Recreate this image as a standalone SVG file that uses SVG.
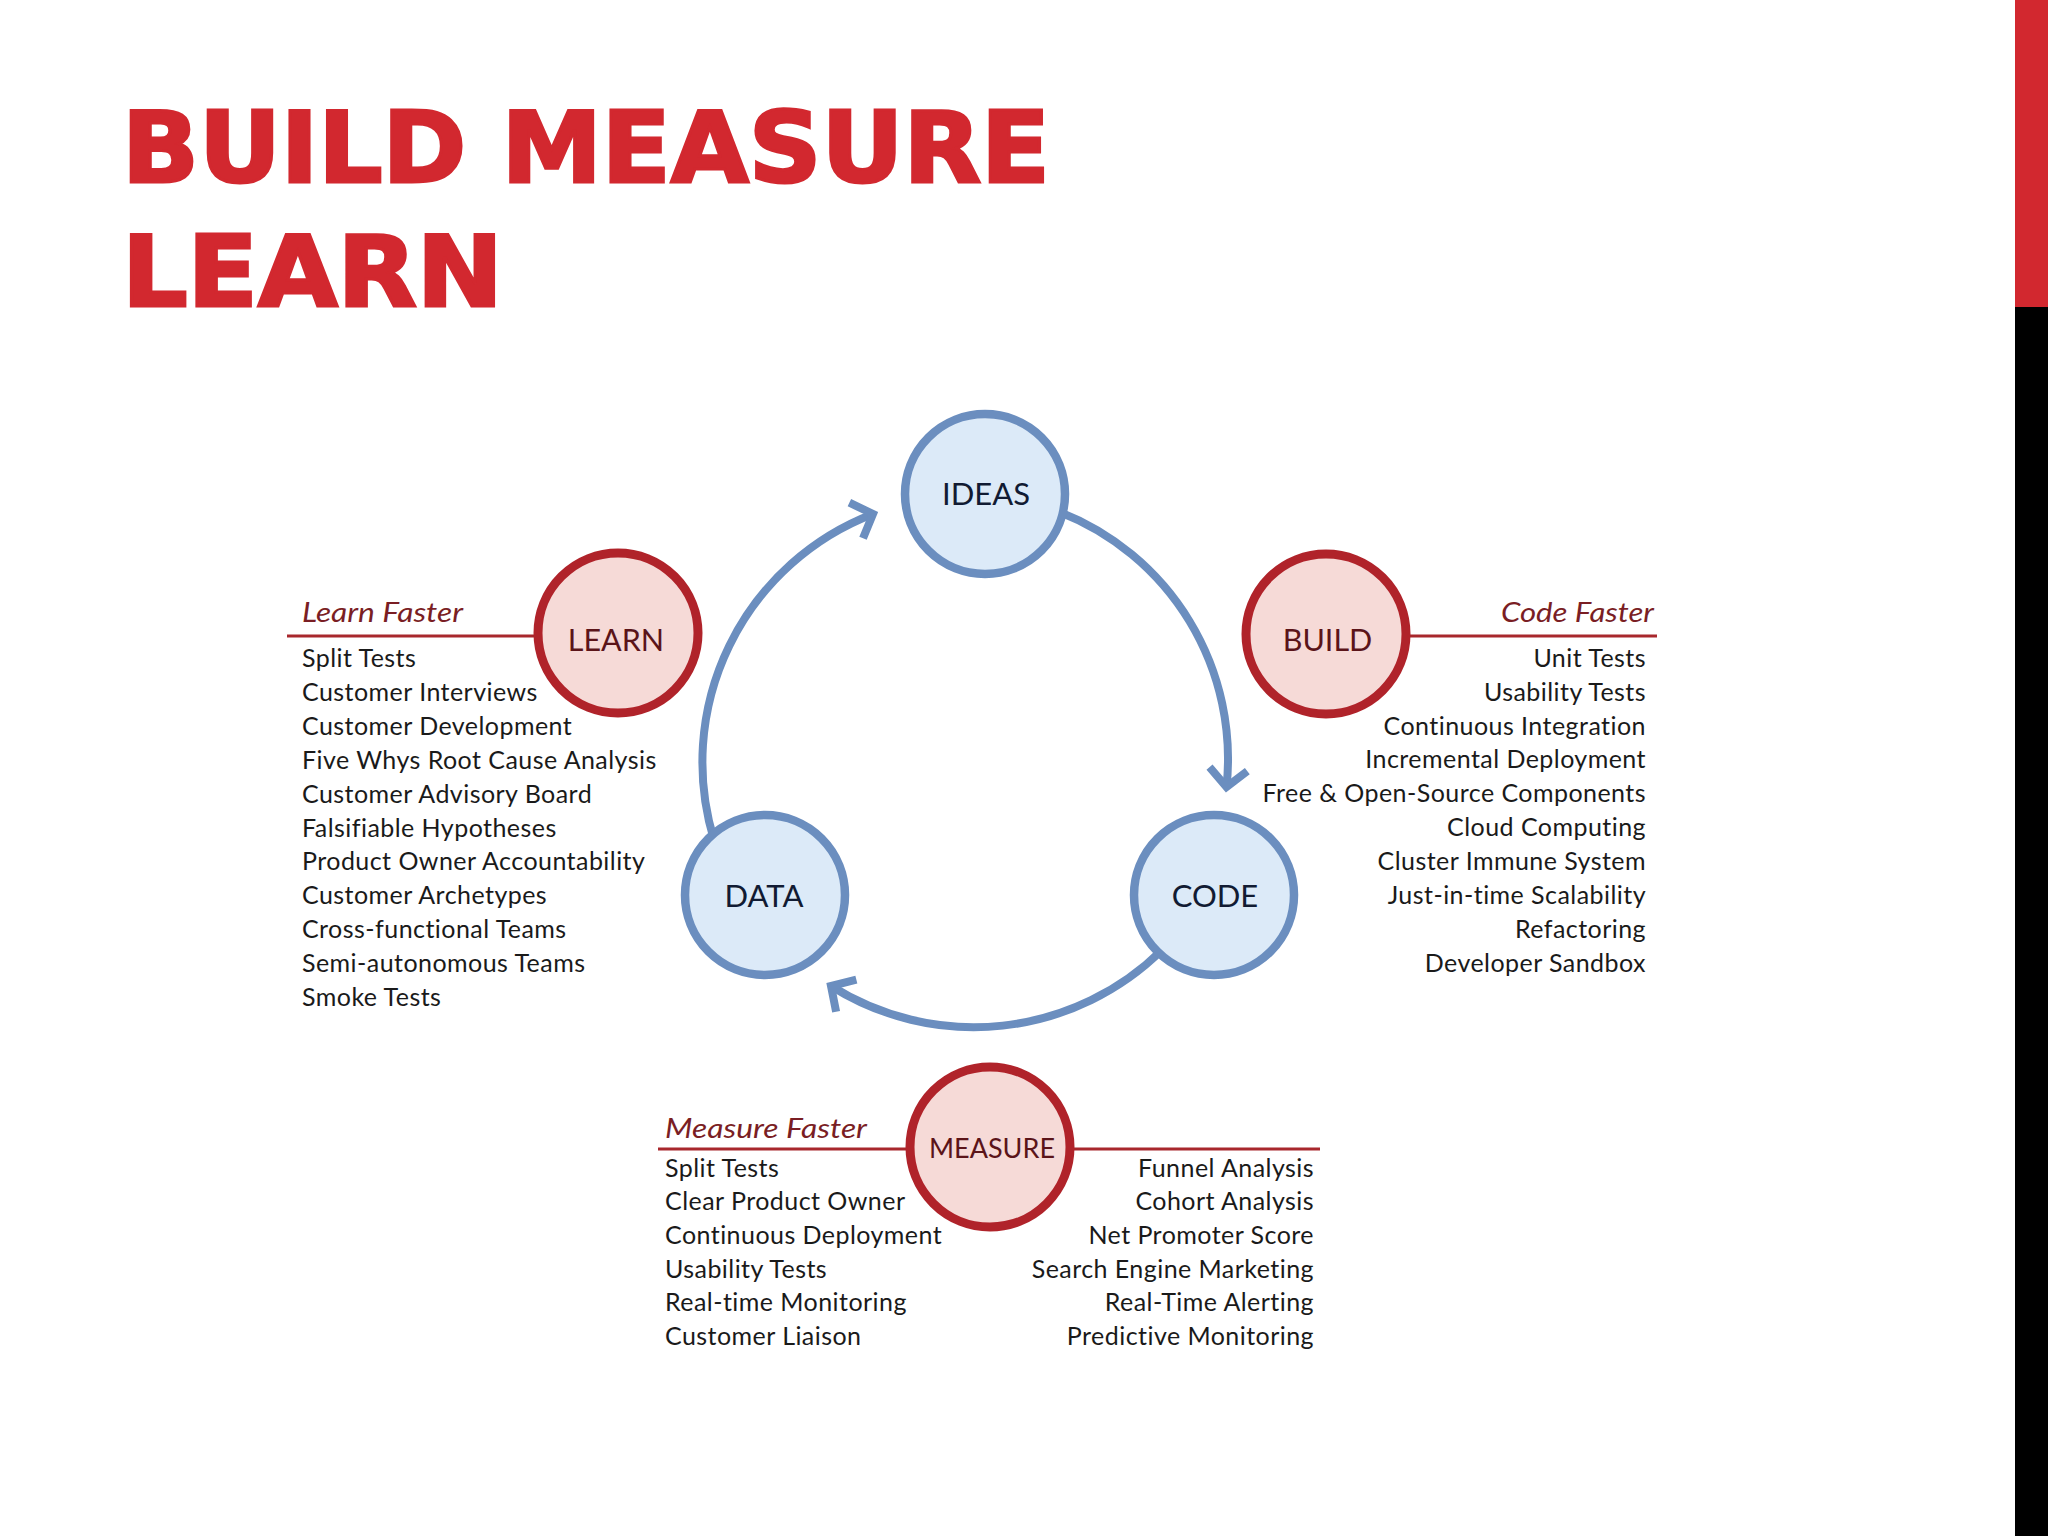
<svg xmlns="http://www.w3.org/2000/svg" width="2048" height="1536" viewBox="0 0 2048 1536">
<defs>
<style>
.title{font-family:"DejaVu Sans",sans-serif;font-weight:700;font-size:98px;fill:#D2282F;stroke:#D2282F;stroke-width:3px;}
.bnode{fill:#DCEAF8;stroke:#6B8EBF;stroke-width:8.5;}
.rnode{fill:#F6DAD7;stroke:#B0232A;stroke-width:9;}
.blab{font-family:Lato,"Open Sans",sans-serif;font-size:31px;fill:#111B33;text-anchor:middle;}
.rlab{font-family:Lato,"Open Sans",sans-serif;font-size:30.5px;fill:#5B1419;text-anchor:middle;}
.head{font-family:Lato,"Open Sans",sans-serif;font-style:italic;font-size:27.5px;fill:#7A1E24;}
.item{font-family:Lato,"Open Sans",sans-serif;font-size:25px;letter-spacing:0.45px;fill:#1A1A1A;}
.end{text-anchor:end;}
.rule{stroke:#A8272C;stroke-width:3;fill:none;}
.arc{fill:none;stroke:#6B8EBF;stroke-width:8;}
</style>
<marker id="chev" markerUnits="userSpaceOnUse" markerWidth="60" markerHeight="60" viewBox="-30 -30 60 60" refX="0" refY="0" orient="auto" overflow="visible">
<path d="M-18,-19 L0,0 L-18,19" fill="none" stroke="#6B8EBF" stroke-width="8"/>
</marker>
</defs>
<rect x="0" y="0" width="2048" height="1536" fill="#FFFFFF"/>
<rect x="2015" y="0" width="33" height="307" fill="#D2282F"/>
<rect x="2015" y="307" width="33" height="1229" fill="#000000"/>
<g id="title">
<text class="title" x="122" y="182" textLength="928" lengthAdjust="spacingAndGlyphs">BUILD MEASURE</text>
<text class="title" x="122" y="306" textLength="381" lengthAdjust="spacingAndGlyphs">LEARN</text>
</g>
<g id="connectors">
<path class="arc" d="M1059.6,512 A265,265 0 0 1 1226.5,787" marker-end="url(#chev)"/>
<path class="arc" d="M1162,950 A268,268 0 0 1 831,986" marker-end="url(#chev)"/>
<path class="arc" d="M714,840 A266,266 0 0 1 873,514" marker-end="url(#chev)"/>
</g>
<g id="ideas"><circle class="bnode" cx="985" cy="494" r="80"/><text class="blab" x="986" y="505">IDEAS</text></g>
<g id="code"><circle class="bnode" cx="1214" cy="895" r="80"/><text class="blab" x="1215" y="906.6">CODE</text></g>
<g id="data"><circle class="bnode" cx="765" cy="895" r="80"/><text class="blab" x="764" y="906.6">DATA</text></g>
<g id="learn">
<line class="rule" x1="287" y1="636" x2="600" y2="636"/>
<circle class="rnode" cx="618" cy="633" r="80"/>
<text class="rlab" x="616" y="651">LEARN</text>
<text class="head" x="302" y="622" textLength="161" lengthAdjust="spacingAndGlyphs">Learn Faster</text>
<text class="item" x="302" y="667.3">Split Tests</text>
<text class="item" x="302" y="701.2">Customer Interviews</text>
<text class="item" x="302" y="735">Customer Development</text>
<text class="item" x="302" y="768.9">Five Whys Root Cause Analysis</text>
<text class="item" x="302" y="802.7">Customer Advisory Board</text>
<text class="item" x="302" y="836.6">Falsifiable Hypotheses</text>
<text class="item" x="302" y="870.4">Product Owner Accountability</text>
<text class="item" x="302" y="904.3">Customer Archetypes</text>
<text class="item" x="302" y="938.1">Cross-functional Teams</text>
<text class="item" x="302" y="972">Semi-autonomous Teams</text>
<text class="item" x="302" y="1005.8">Smoke Tests</text>
</g>
<g id="build">
<line class="rule" x1="1340" y1="636" x2="1657" y2="636"/>
<circle class="rnode" cx="1326" cy="634" r="80"/>
<text class="rlab" x="1327.5" y="651">BUILD</text>
<text class="head end" x="1654" y="622" textLength="153" lengthAdjust="spacingAndGlyphs">Code Faster</text>
<text class="item end" x="1646" y="666.7">Unit Tests</text>
<text class="item end" x="1646" y="700.6">Usability Tests</text>
<text class="item end" x="1646" y="734.5">Continuous Integration</text>
<text class="item end" x="1646" y="768.4">Incremental Deployment</text>
<text class="item end" x="1646" y="802.3">Free &amp; Open-Source Components</text>
<text class="item end" x="1646" y="836.2">Cloud Computing</text>
<text class="item end" x="1646" y="870.1">Cluster Immune System</text>
<text class="item end" x="1646" y="904">Just-in-time Scalability</text>
<text class="item end" x="1646" y="937.9">Refactoring</text>
<text class="item end" x="1646" y="971.8">Developer Sandbox</text>
</g>
<g id="measure">
<line class="rule" x1="658" y1="1149" x2="1320" y2="1149"/>
<circle class="rnode" cx="990" cy="1147" r="80"/>
<text class="rlab" x="992" y="1158" style="font-size:27px">MEASURE</text>
<text class="head" x="665" y="1138" textLength="202" lengthAdjust="spacingAndGlyphs">Measure Faster</text>
<text class="item" x="665" y="1176.7">Split Tests</text>
<text class="item" x="665" y="1210.4">Clear Product Owner</text>
<text class="item" x="665" y="1244">Continuous Deployment</text>
<text class="item" x="665" y="1277.6">Usability Tests</text>
<text class="item" x="665" y="1311.2">Real-time Monitoring</text>
<text class="item" x="665" y="1344.9">Customer Liaison</text>
<text class="item end" x="1314" y="1176.7">Funnel Analysis</text>
<text class="item end" x="1314" y="1210.4">Cohort Analysis</text>
<text class="item end" x="1314" y="1244">Net Promoter Score</text>
<text class="item end" x="1314" y="1277.6">Search Engine Marketing</text>
<text class="item end" x="1314" y="1311.2">Real-Time Alerting</text>
<text class="item end" x="1314" y="1344.9">Predictive Monitoring</text>
</g>
</svg>
